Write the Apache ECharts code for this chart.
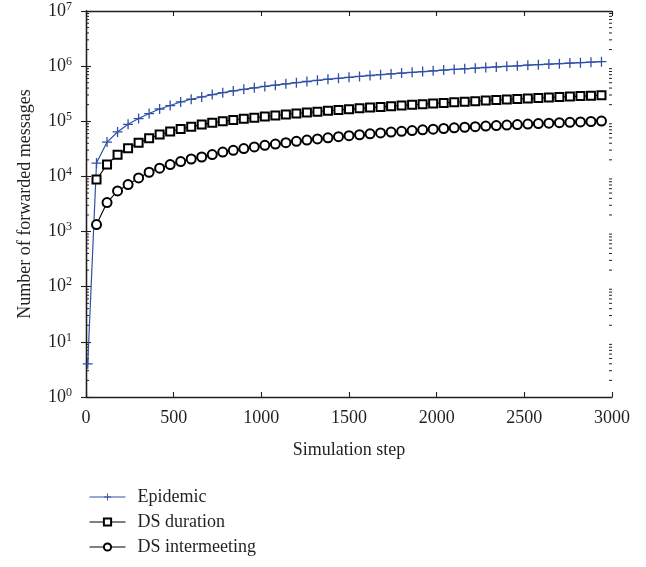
<!DOCTYPE html>
<html>
<head>
<meta charset="utf-8">
<script src="https://cdn.jsdelivr.net/npm/echarts@6/dist/echarts.min.js"></script>
<style>
  html, body { margin: 0; padding: 0; background: #fff; }
  #chart { width: 646px; height: 567px; }
</style>
</head>
<body>
<div id="chart"></div>
<script>
// Simulation steps at which the message counts were sampled
const steps = [10, 60, 120, 180, 240, 300, 360, 420, 480, 540, 600, 660, 720, 780, 840, 900,
  960, 1020, 1080, 1140, 1200, 1260, 1320, 1380, 1440, 1500, 1560, 1620, 1680, 1740, 1800,
  1860, 1920, 1980, 2040, 2100, 2160, 2220, 2280, 2340, 2400, 2460, 2520, 2580, 2640, 2700,
  2760, 2820, 2880, 2940];

// Cumulative number of forwarded messages per routing scheme
const epidemic = [4, 17500, 42000, 64000, 88000, 112000, 138000, 167000, 193000, 224000,
  251000, 276000, 305000, 330000, 355000, 380000, 405000, 428000, 452000, 478000, 502000,
  527000, 552000, 578000, 602000, 626000, 650000, 676000, 700000, 724000, 750000, 773000,
  798000, 822000, 848000, 872000, 896000, 920000, 945000, 968000, 992000, 1015000, 1040000,
  1063000, 1088000, 1110000, 1135000, 1158000, 1180000, 1205000];

const dsDuration = [null, 8800, 16400, 24800, 32400, 40700, 49000, 57500, 65300, 72400, 79400,
  87100, 94400, 100000, 105500, 111000, 116500, 122000, 127500, 133000, 138500, 144000,
  149500, 155000, 160500, 166000, 171500, 177000, 182500, 188000, 193500, 199000, 204500,
  210000, 215500, 221000, 226500, 232000, 237500, 243000, 248500, 254000, 259000, 264500,
  270000, 275000, 280500, 286000, 291000, 296500];

const dsIntermeeting = [null, 1340, 3360, 5450, 7110, 9380, 11900, 14100, 16400, 18600, 20700,
  22500, 24900, 27700, 29800, 32000, 34200, 36700, 38700, 41000, 43300, 45600, 47900, 50200,
  52500, 54700, 57000, 59200, 61400, 63600, 65700, 67800, 69900, 72000, 74000, 76000, 78000,
  79900, 81800, 83700, 85500, 87300, 89100, 90800, 92500, 94200, 95900, 97500, 99100, 100700];

const seriesNames = ['Epidemic', 'DS duration', 'DS intermeeting'];
const xTicks = [0, 500, 1000, 1500, 2000, 2500, 3000];

const FONT = '"Liberation Serif", "DejaVu Serif", serif';
const INK = '#231f20';
const BLUE = '#2f50a6';
const PLUS = 'path://M4.35,0H5.65V4.35H10V5.65H5.65V10H4.35V5.65H0V4.35H4.35Z';

const pair = arr => steps.map((s, i) => [s, arr[i]]);

const chart = echarts.init(document.getElementById('chart'), null, { renderer: 'canvas' });

const frameLine = { show: true, lineStyle: { color: INK, width: 1.3 } };
const tickIn = { show: true, inside: true, length: 5, lineStyle: { color: INK, width: 1.1 } };

const option = {
  animation: false,
  backgroundColor: '#fff',
  textStyle: { fontFamily: FONT, color: INK },
  grid: { left: 86, right: 34, top: 11, bottom: 170, containLabel: false, outerBoundsMode: 'none' },
  legend: {
    orient: 'vertical',
    left: 84,
    top: 483,
    itemWidth: 36,
    itemHeight: 9,
    itemGap: 7,
    data: seriesNames,
    lineStyle: { width: 1 },
    textStyle: { fontFamily: FONT, fontSize: 18, color: INK, padding: [0, 0, 0, 7] }
  },
  xAxis: [{
    type: 'value',
    min: xTicks[0],
    max: xTicks[xTicks.length - 1],
    interval: 500,
    position: 'bottom',
    name: 'Simulation step',
    nameLocation: 'middle',
    nameGap: 44,
    nameTextStyle: { fontFamily: FONT, fontSize: 18, color: INK },
    axisLine: frameLine,
    axisTick: tickIn,
    axisLabel: { fontFamily: FONT, fontSize: 18, color: INK, margin: 12, formatter: v => String(v) },
    splitLine: { show: false }
  }, {
    type: 'value',
    min: xTicks[0],
    max: xTicks[xTicks.length - 1],
    interval: 500,
    position: 'top',
    axisLine: frameLine,
    axisTick: tickIn,
    axisLabel: { show: false },
    splitLine: { show: false }
  }],
  yAxis: [{
    type: 'log',
    logBase: 10,
    min: 1,
    max: 1e7,
    splitNumber: 7,
    position: 'left',
    name: 'Number of forwarded messages',
    nameLocation: 'middle',
    nameGap: 52,
    nameTextStyle: { fontFamily: FONT, fontSize: 18, color: INK },
    axisLine: frameLine,
    axisTick: tickIn,
    axisLabel: {
      margin: 14,
      formatter: v => '{b|10}{s|' + Math.round(Math.log10(v)) + '}',
      rich: {
        b: { fontFamily: FONT, fontSize: 18, color: INK },
        s: { fontFamily: FONT, fontSize: 12, color: INK, padding: [0, 0, 9, 0] }
      }
    },
    splitLine: { show: false }
  }, {
    type: 'log',
    logBase: 10,
    min: 1,
    max: 1e7,
    splitNumber: 7,
    position: 'right',
    axisLine: frameLine,
    axisTick: tickIn,
    axisLabel: { show: false },
    splitLine: { show: false }
  }],
  series: [{
    name: seriesNames[0],
    type: 'line',
    data: pair(epidemic),
    symbol: PLUS,
    symbolSize: 10,
    showAllSymbol: true,
    lineStyle: { color: BLUE, width: 1.2 },
    itemStyle: { color: BLUE, borderWidth: 0 },
    z: 3
  }, {
    name: seriesNames[1],
    type: 'line',
    data: pair(dsDuration),
    symbol: 'emptyRect',
    symbolSize: 8,
    showAllSymbol: true,
    lineStyle: { color: '#000', width: 1.1 },
    itemStyle: { color: '#000', borderColor: '#000', borderWidth: 1.2 }
  }, {
    name: seriesNames[2],
    type: 'line',
    data: pair(dsIntermeeting),
    symbol: 'emptyCircle',
    symbolSize: 9,
    showAllSymbol: true,
    lineStyle: { color: '#000', width: 1.1 },
    itemStyle: { color: '#000', borderColor: '#000', borderWidth: 1.2 }
  }]
};

chart.setOption(option);

// Logarithmic minor ticks (2..9 per decade) on the left and right frame edges
const minor = [];
const xLeft = chart.convertToPixel({ xAxisIndex: 0 }, xTicks[0]);
const xRight = chart.convertToPixel({ xAxisIndex: 0 }, xTicks[xTicks.length - 1]);
for (let e = 0; e < 7; e++) {
  for (let m = 2; m <= 9; m++) {
    const y = chart.convertToPixel({ yAxisIndex: 0 }, m * Math.pow(10, e));
    minor.push({ type: 'line', shape: { x1: xLeft, y1: y, x2: xLeft + 3, y2: y },
      style: { stroke: INK, lineWidth: 1 }, silent: true });
    minor.push({ type: 'line', shape: { x1: xRight, y1: y, x2: xRight - 3, y2: y },
      style: { stroke: INK, lineWidth: 1 }, silent: true });
  }
}
chart.setOption({ graphic: minor });
</script>
</body>
</html>
